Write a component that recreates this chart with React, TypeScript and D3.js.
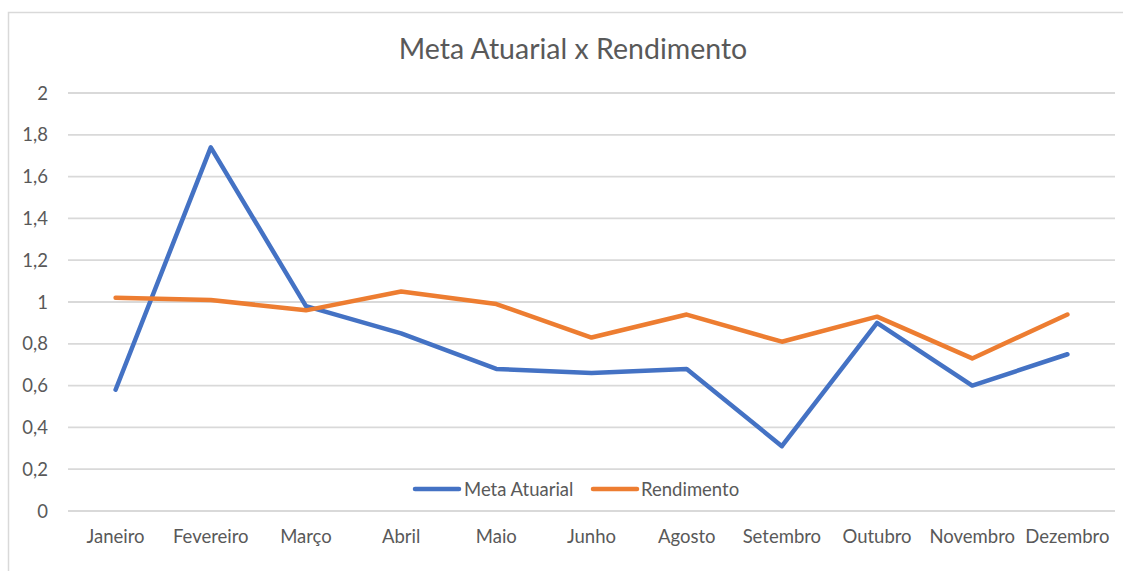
import React from "react";
import * as d3 from "d3";

const categories = ["Janeiro", "Fevereiro", "Março", "Abril", "Maio", "Junho", "Agosto", "Setembro", "Outubro", "Novembro", "Dezembro"];
const metaAtuarial = [0.58, 1.74, 0.98, 0.85, 0.68, 0.66, 0.68, 0.31, 0.9, 0.6, 0.75];
const rendimento = [1.02, 1.01, 0.96, 1.05, 0.99, 0.83, 0.94, 0.81, 0.93, 0.73, 0.94];
const yTicks = [0, 0.2, 0.4, 0.6, 0.8, 1, 1.2, 1.4, 1.6, 1.8, 2];
const seriesNames = ["Meta Atuarial", "Rendimento"];
const colors = ["#4472C4", "#ED7D31"];

const W = 1123;
const H = 571;
const FONT = "Lato, 'Open Sans', sans-serif";
const FS = 18.5;

export default function App() {
  const x = d3.scaleBand<string>().domain(categories).range([68, 1115]);
  const y = d3.scaleLinear().domain([0, 2]).range([511, 93]);
  const line = d3
    .line<number>()
    .x((_, i) => (x(categories[i]) as number) + x.bandwidth() / 2)
    .y((d) => y(d));
  const fmt = (v: number) => String(Math.round(v * 10) / 10).replace(".", ",");
  const series = [metaAtuarial, rendimento];

  return (
    <svg width={W} height={H} style={{ position: "absolute", left: 0, top: 0, background: "#fff" }}>
      <rect x={8.5} y={12.5} width={W} height={H} fill="#fff" stroke="#d9d9d9" strokeWidth={1.5} />
      <text x={573} y={59} textAnchor="middle" fontFamily={FONT} fontSize={28.5} fill="#595959">
        Meta Atuarial x Rendimento
      </text>
      {yTicks.map((t) => (
        <g key={t}>
          <line x1={68} x2={1115} y1={y(t)} y2={y(t)} stroke="#d9d9d9" strokeWidth={1.8} />
          <text x={48} y={y(t)} dy="0.36em" textAnchor="end" fontFamily={FONT} fontSize={FS} fill="#595959">
            {fmt(t)}
          </text>
        </g>
      ))}
      {categories.map((c) => (
        <text key={c} x={(x(c) as number) + x.bandwidth() / 2} y={543} textAnchor="middle" fontFamily={FONT} fontSize={FS} fill="#595959">
          {c}
        </text>
      ))}
      {series.map((s, i) => (
        <path key={i} d={line(s) || ""} fill="none" stroke={colors[i]} strokeWidth={4.5} strokeLinejoin="round" strokeLinecap="round" />
      ))}
      {[
        { x1: 415, x2: 459, tx: 464 },
        { x1: 593, x2: 637, tx: 641 },
      ].map((l, i) => (
        <g key={i}>
          <line x1={l.x1} x2={l.x2} y1={489} y2={489} stroke={colors[i]} strokeWidth={4.5} strokeLinecap="round" />
          <text x={l.tx} y={489} dy="0.36em" fontFamily={FONT} fontSize={FS} fill="#595959">
            {seriesNames[i]}
          </text>
        </g>
      ))}
    </svg>
  );
}
